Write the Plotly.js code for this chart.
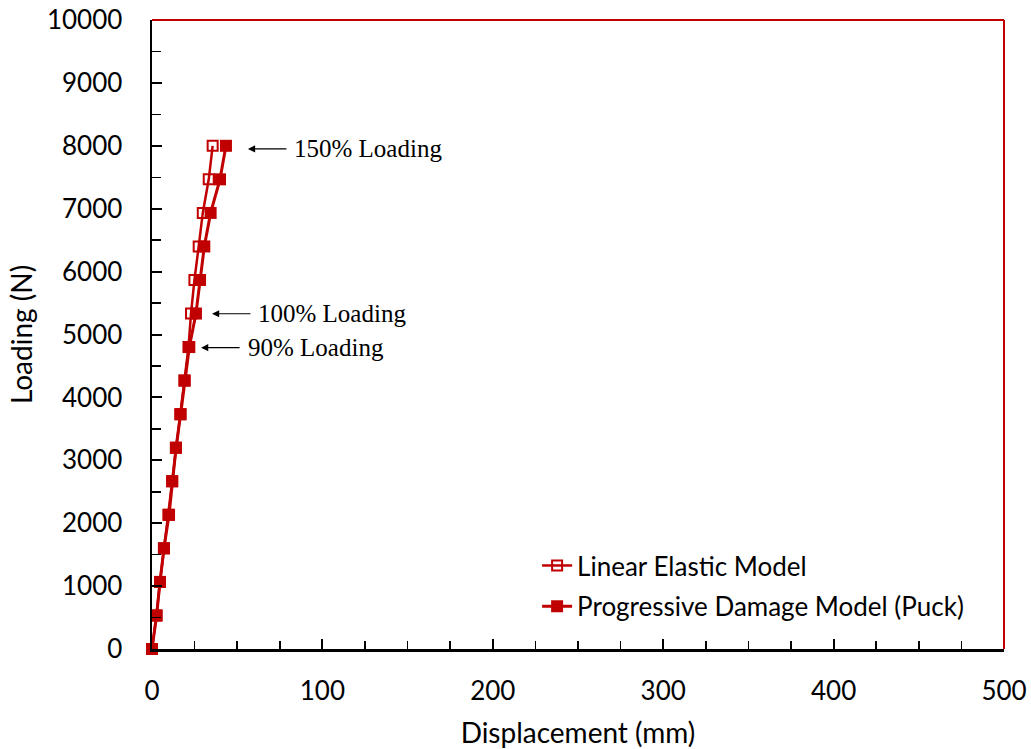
<!DOCTYPE html>
<html>
<head>
<meta charset="utf-8">
<script src="https://cdn.plot.ly/plotly-3.0.1.min.js"></script>
<style>html,body{margin:0;padding:0;background:#fff;}#chart{width:1031px;height:749px;}</style>
</head>
<body>
<div id="chart"></div>
<script>
const loading = [0, 533, 1067, 1600, 2133, 2667, 3200, 3733, 4267, 4800, 5333, 5867, 6400, 6933, 7467, 8000];
const linearDisp = [0, 2.6, 4.7, 7.0, 9.6, 11.8, 14.0, 16.6, 19.0, 21.4, 22.9, 24.9, 27.4, 29.8, 33.3, 35.6];
const puckDisp = [0, 2.7, 4.7, 7.0, 10.0, 11.9, 14.1, 16.8, 19.2, 21.9, 25.8, 28.2, 30.7, 34.4, 39.9, 43.4];
const seriesNames = ['Linear Elastic Model', 'Progressive Damage Model (Puck)'];
const annTexts = ['150% Loading', '100% Loading', '90% Loading'];
const annHeadX = [56.3, 35.2, 28.8];
const annHeadY = [7950, 5330, 4790];
const annTextX = [82.2, 61.0, 55.2];

const red = '#C00000';
const traces = [
  {x: linearDisp, y: loading, name: seriesNames[0], mode: 'lines+markers', legendgroup: 'a', cliponaxis: false,
   line: {color: red, width: 2.5},
   marker: {symbol: 'square-open', size: 10, color: red, line: {color: red, width: 2}}},
  {x: puckDisp, y: loading, name: seriesNames[1], mode: 'lines+markers', legendgroup: 'b', cliponaxis: false,
   line: {color: red, width: 3},
   marker: {symbol: 'square', size: 12, color: red}}
];
const annotations = [];
for (let i = 0; i < annTexts.length; i++) {
  annotations.push({x: annHeadX[i], y: annHeadY[i], xref: 'x', yref: 'y', text: '', showarrow: true,
    ax: 40, ay: 0, arrowhead: 2, arrowsize: 1.2, arrowwidth: 1.2, arrowcolor: '#000', standoff: 0});
  annotations.push({x: annTextX[i], y: annHeadY[i], xref: 'x', yref: 'y', text: annTexts[i], showarrow: false,
    xanchor: 'left', yanchor: 'middle', font: {family: 'Liberation Serif', size: 25, color: '#000'}});
}
const layout = {
  width: 1031, height: 749,
  margin: {l: 152, r: 27, t: 20, b: 100},
  paper_bgcolor: '#fff', plot_bgcolor: '#fff',
  font: {family: 'Lato', color: '#000'},
  showlegend: true,
  legend: {x: 0.452, y: 0.17, xanchor: 'left', yanchor: 'top', font: {family: 'Lato', size: 26, color: '#000'},
    traceorder: 'grouped', tracegroupgap: 4, bgcolor: 'rgba(0,0,0,0)'},
  xaxis: {range: [0, 500], dtick: 100, showgrid: false, zeroline: false, exponentformat: 'none',
    showline: true, linecolor: '#000', linewidth: 2.5, ticks: 'inside', ticklen: 10, tickwidth: 2, tickcolor: '#000',
    minor: {dtick: 25, ticks: 'inside', ticklen: 8, tickwidth: 1.5, tickcolor: '#000', showgrid: false},
    tickfont: {family: 'Lato', size: 26, color: '#000'}, ticklabelstandoff: 17,
    title: {text: 'Displacement (mm)', font: {family: 'Lato', size: 28, color: '#000'}, standoff: 19}},
  yaxis: {range: [0, 10000], dtick: 1000, showgrid: false, zeroline: false, exponentformat: 'none', tickformat: 'd',
    showline: true, linecolor: '#000', linewidth: 2.5, ticks: 'inside', ticklen: 10, tickwidth: 2, tickcolor: '#000',
    minor: {dtick: 500, ticks: 'inside', ticklen: 9, tickwidth: 1.5, tickcolor: '#000', showgrid: false},
    tickfont: {family: 'Lato', size: 26, color: '#000'}, ticklabelstandoff: 22,
    title: {text: 'Loading (N)', font: {family: 'Lato', size: 28, color: '#000'}, standoff: 6}},
  shapes: [
    {type: 'line', xref: 'paper', yref: 'paper', x0: 0, x1: 1, y0: 1, y1: 1, line: {color: red, width: 2}},
    {type: 'line', xref: 'paper', yref: 'paper', x0: 1, x1: 1, y0: 0, y1: 1, line: {color: red, width: 2}}
  ],
  annotations: annotations
};
Plotly.newPlot('chart', traces, layout, {displayModeBar: false, staticPlot: true});
</script>
</body>
</html>
